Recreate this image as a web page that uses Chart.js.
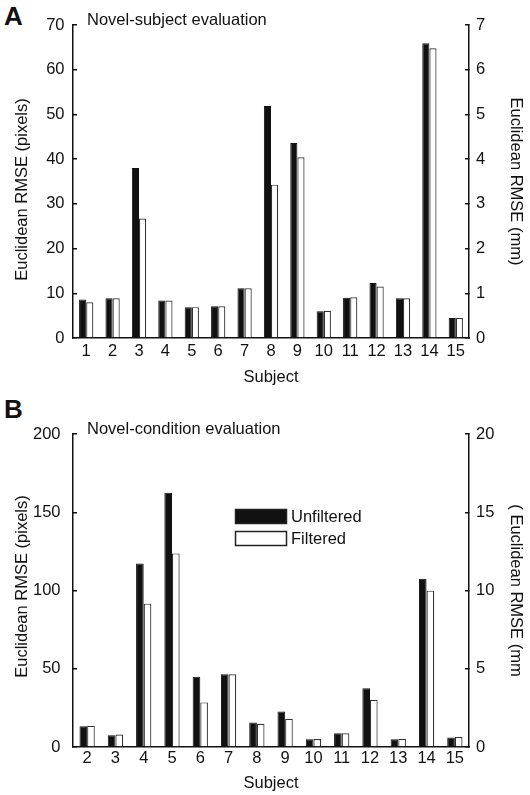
<!DOCTYPE html>
<html>
<head>
<meta charset="utf-8">
<script src="https://cdn.jsdelivr.net/npm/chart.js@4.4.1/dist/chart.umd.min.js"></script>
<style>
  body { margin: 0; background: #fff; width: 530px; height: 795px; position: relative; overflow: hidden; font-family: "Liberation Sans", Arial, sans-serif; }
  canvas { position: absolute; left: 0; }
  .tag { position: absolute; left: 4px; font-weight: bold; font-size: 26px; color: #111; line-height: 1; }
</style>
</head>
<body>
<div class="tag" style="top:3px">A</div>
<canvas id="chartA" width="530" height="392" style="top:0"></canvas>
<div class="tag" style="top:396px">B</div>
<canvas id="chartB" width="530" height="403" style="top:392px"></canvas>
<script>
// --- Data ---
const subjectsA = ['1', '2', '3', '4', '5', '6', '7', '8', '9', '10', '11', '12', '13', '14', '15'];
const unfilteredA = [8.6, 8.9, 38.0, 8.4, 6.9, 7.1, 11.1, 51.9, 43.6, 6.0, 9.0, 12.3, 8.9, 65.9, 4.5];
const filteredA = [8.0, 8.9, 26.7, 8.4, 6.9, 7.1, 11.1, 34.3, 40.4, 6.1, 9.1, 11.5, 8.9, 64.8, 4.5];

const subjectsB = ['2', '3', '4', '5', '6', '7', '8', '9', '10', '11', '12', '13', '14', '15'];
const unfilteredB = [13.3, 7.5, 117.3, 162.5, 44.9, 46.5, 15.6, 22.7, 4.9, 8.8, 37.5, 4.9, 107.5, 6.0];
const filteredB = [13.5, 8.0, 91.6, 123.7, 28.5, 46.5, 14.8, 18.0, 5.1, 8.8, 30.2, 5.3, 99.9, 6.4];

const FONT = '"Liberation Sans", Arial, sans-serif';
const INK = '#111';

// --- Panel title, left axis title and legend drawn by hand ---
const panelDecor = {
  id: 'panelDecor',
  afterDraw(chart, args, opts) {
    const { ctx, chartArea } = chart;
    ctx.save();
    ctx.fillStyle = INK;
    ctx.font = `16.5px ${FONT}`;
    ctx.textBaseline = 'middle';
    ctx.fillText(opts.title, chartArea.left + 14, chartArea.top - 5);

    // left axis title (sits a bit off-centre in the original)
    ctx.save();
    ctx.translate(22, (chartArea.top + chartArea.bottom) / 2 + opts.yTitleShift);
    ctx.rotate(-Math.PI / 2);
    ctx.textAlign = 'center';
    ctx.fillText(opts.yTitle, 0, 0);
    ctx.restore();

    if (opts.legend) {
      chart.data.datasets.forEach((ds, i) => {
        const x = chartArea.left + opts.legend.dx;
        const y = chartArea.top + opts.legend.dy + i * 22;
        ctx.fillStyle = ds.backgroundColor;
        ctx.fillRect(x, y, 52, 15);
        ctx.strokeStyle = '#222';
        ctx.lineWidth = 1.5;
        ctx.strokeRect(x + 0.5, y + 0.5, 51, 14);
        ctx.fillStyle = INK;
        ctx.fillText(ds.label, x + 56, y + 8);
      });
    }
    ctx.restore();
  }
};

function makeChart(id, cfg) {
  const axisBorder = { display: true, color: INK, width: 1.5 };
  const tickFont = { family: FONT, size: 16.5 };
  const titleFont = { family: FONT, size: 16.5 };

  return new Chart(document.getElementById(id), {
    type: 'bar',
    data: {
      labels: cfg.labels,
      datasets: [
        { label: 'Unfiltered', data: cfg.unfiltered, backgroundColor: INK, borderColor: INK, borderWidth: 1 },
        { label: 'Filtered', data: cfg.filtered, backgroundColor: '#fff', borderColor: '#333', borderWidth: 1.2 }
      ]
    },
    options: {
      responsive: false,
      animation: false,
      devicePixelRatio: 1,
      layout: { padding: { top: cfg.top, left: 0, right: 0, bottom: 0 } },
      datasets: { bar: { categoryPercentage: cfg.catPct, barPercentage: 1 } },
      plugins: {
        legend: { display: false },
        tooltip: { enabled: false },
        panelDecor: { title: cfg.title, legend: cfg.legend, yTitle: 'Euclidean RMSE (pixels)', yTitleShift: cfg.yTitleShift }
      },
      scales: {
        x: {
          grid: { display: false, drawTicks: false },
          border: axisBorder,
          ticks: { color: INK, font: tickFont, padding: cfg.xPad, maxRotation: 0, autoSkip: false },
          title: { display: true, text: 'Subject', color: INK, font: titleFont, padding: { top: 0, bottom: cfg.xTitlePad } },
          afterFit: (s) => { s.height = cfg.xHeight; }
        },
        y: {
          position: 'left',
          min: 0, max: cfg.yMax,
          grid: { drawOnChartArea: false, tickLength: -4, color: INK, lineWidth: 1.5 },
          border: axisBorder,
          ticks: { stepSize: cfg.yStep, color: INK, font: tickFont, padding: cfg.yPad },
          title: { display: false },
          afterFit: (s) => { s.width = 73; }
        },
        y2: {
          position: 'right',
          min: 0, max: cfg.y2Max,
          grid: { drawOnChartArea: false, tickLength: -4, color: INK, lineWidth: 1.5 },
          border: axisBorder,
          ticks: { stepSize: cfg.y2Step, color: INK, font: tickFont, padding: 11 },
          title: { display: true, text: cfg.y2Title, color: INK, font: titleFont, padding: { top: 5, bottom: 0 } },
          afterFit: (s) => { s.width = 61; }
        }
      }
    },
    plugins: [panelDecor]
  });
}

makeChart('chartA', {
  labels: subjectsA, unfiltered: unfilteredA, filtered: filteredA,
  title: 'Novel-subject evaluation',
  yMax: 70, yStep: 10, y2Max: 7, y2Step: 1, y2Title: 'Euclidean RMSE (mm)',
  top: 25, xHeight: 54, xPad: 4, xTitlePad: 5, yPad: 12.5, catPct: 0.54, yTitleShift: 8
});

makeChart('chartB', {
  labels: subjectsB, unfiltered: unfilteredB, filtered: filteredB,
  title: 'Novel-condition evaluation',
  legend: { dx: 162, dy: 75 },
  yMax: 200, yStep: 50, y2Max: 20, y2Step: 5, y2Title: '( Euclidean RMSE (mm',
  top: 42, xHeight: 48, xPad: 1.5, xTitlePad: 2, yPad: 16.5, catPct: 0.54, yTitleShift: -4
});
</script>
</body>
</html>
